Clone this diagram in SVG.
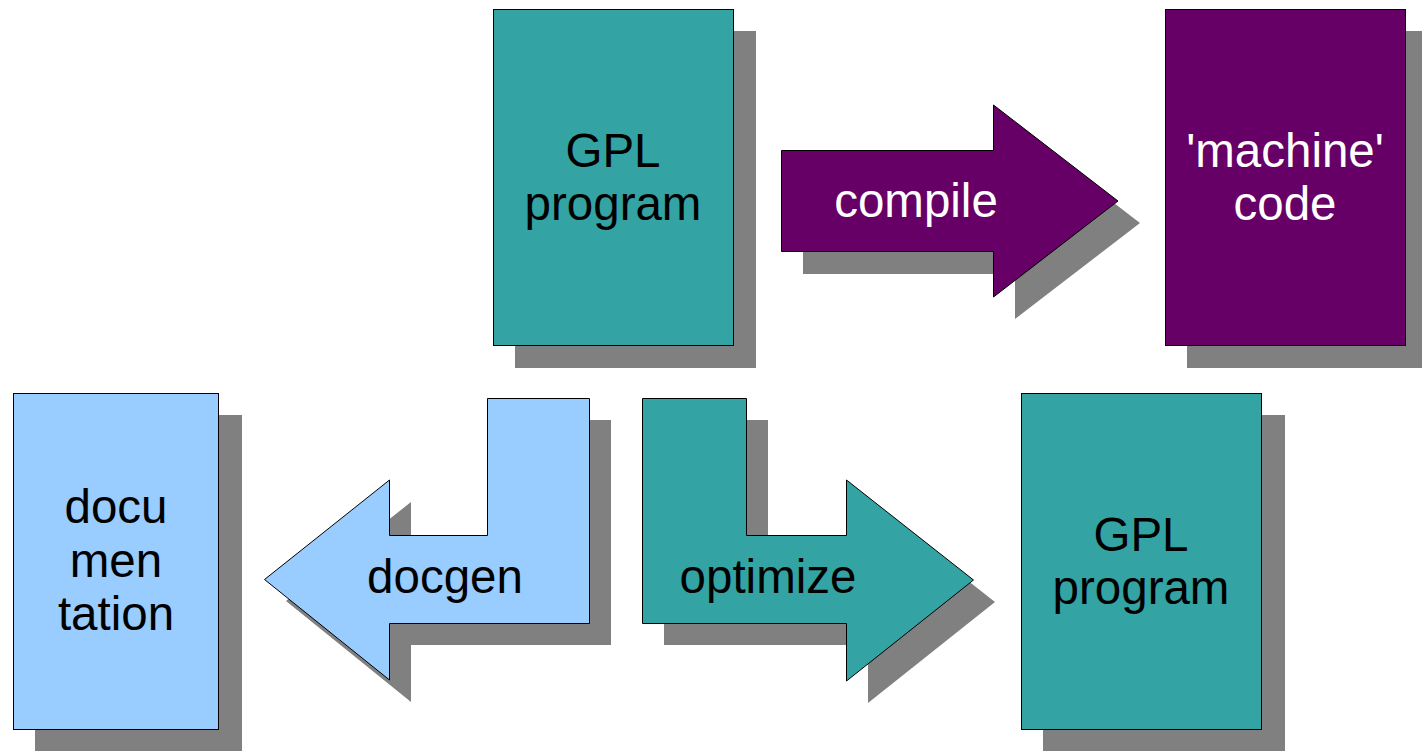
<svg xmlns="http://www.w3.org/2000/svg" width="1422" height="751" viewBox="0 0 1422 751">
  <style>
    .shadow { fill: #808080; stroke: none; }
    .teal { fill: #33a3a3; stroke: #000; stroke-width: 1; }
    .purple { fill: #660066; stroke: #000; stroke-width: 1; }
    .blue { fill: #99ccff; stroke: #000; stroke-width: 1; }
    text { font-family: "Liberation Sans", Arial, sans-serif; font-size: 47.5px; text-anchor: middle; }
    .dark { fill: #000; }
    .light { fill: #fff; }
  </style>
  <rect width="1422" height="751" fill="#fff"/>

  <g id="gpl-program-top">
    <rect class="shadow" x="515" y="31" width="241" height="337"/>
    <rect class="teal" x="493.5" y="9.5" width="240" height="336"/>
    <text class="dark" x="613" y="167">GPL</text>
    <text class="dark" x="613" y="220">program</text>
  </g>

  <g id="machine-code">
    <rect class="shadow" x="1187" y="31" width="241" height="337"/>
    <rect class="purple" x="1165.5" y="9.5" width="240" height="336"/>
    <text class="light" x="1285" y="167">'machine'</text>
    <text class="light" x="1285" y="220">code</text>
  </g>

  <g id="documentation">
    <rect class="shadow" x="35" y="415" width="207" height="337"/>
    <rect class="blue" x="13.5" y="393.5" width="205" height="336"/>
    <text class="dark" x="116" y="523">docu</text>
    <text class="dark" x="116" y="577">men</text>
    <text class="dark" x="116" y="630">tation</text>
  </g>

  <g id="gpl-program-bottom">
    <rect class="shadow" x="1043" y="415" width="242" height="337"/>
    <rect class="teal" x="1021.5" y="393.5" width="240" height="336"/>
    <text class="dark" x="1141" y="551">GPL</text>
    <text class="dark" x="1141" y="604">program</text>
  </g>

  <g id="connectors">
    <g id="compile">
      <polygon class="shadow" points="803,172 1015,172 1015,127 1140,223 1015,319 1015,274 803,274"/>
      <polygon class="purple" points="781.5,150.5 993.5,150.5 993.5,105 1118,201 993.5,297 993.5,251.5 781.5,251.5"/>
      <text class="light" x="916" y="217">compile</text>
    </g>
    <g id="docgen">
      <polygon class="shadow" points="611,420 611,645 411,645 411,702 286,601 411,502 411,557 509,557 509,420"/>
      <polygon class="blue" points="589.5,398.5 589.5,623.5 389.5,623.5 389.5,680 264.5,579.5 389.5,480 389.5,535.5 487.5,535.5 487.5,398.5"/>
      <text class="dark" x="445" y="593">docgen</text>
    </g>
    <g id="optimize">
      <polygon class="shadow" points="664,420 768,420 768,557 868,557 868,502 995,602 868,703 868,645 664,645"/>
      <polygon class="teal" points="642.5,398.5 746.5,398.5 746.5,535.5 846.5,535.5 846.5,480 973.5,580 846.5,681 846.5,623.5 642.5,623.5"/>
      <text class="dark" x="768" y="593">optimize</text>
    </g>
  </g>
</svg>
